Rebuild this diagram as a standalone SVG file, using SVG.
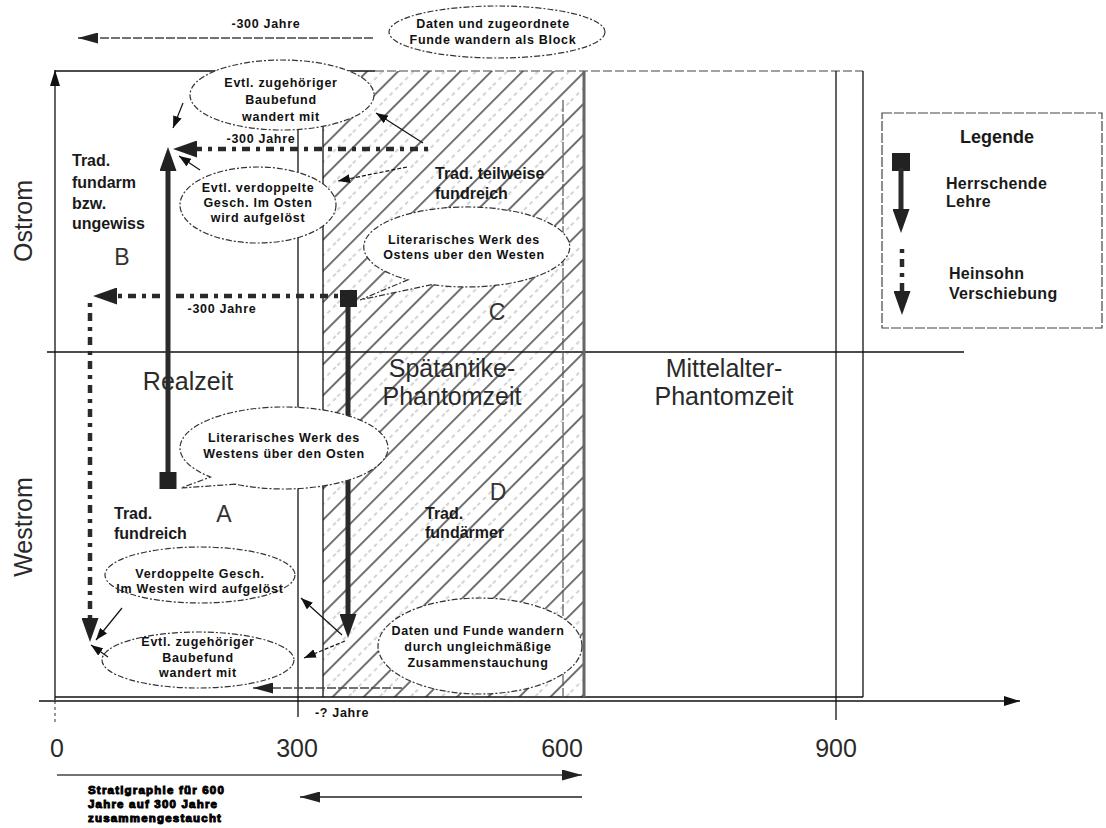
<svg xmlns="http://www.w3.org/2000/svg" width="1106" height="828" viewBox="0 0 1106 828">
<style>
text{font-family:"Liberation Sans",Arial,sans-serif;}
.eb{font-size:12.5px;font-weight:bold;text-anchor:middle;fill:#111;letter-spacing:0.7px}
.tb{font-size:16px;font-weight:bold;fill:#1a1a1a}
.big{font-size:25px;fill:#2a2a2a}
.abc{font-size:23px;fill:#333}
.sm{font-size:12.5px;font-weight:bold;fill:#111;letter-spacing:0.7px;text-anchor:middle}
.heavy{font-size:11.5px;font-weight:bold;fill:#000;stroke:#000;stroke-width:1;letter-spacing:1.2px}
.ell{fill:#fff;stroke:#333;stroke-width:1.2;stroke-dasharray:6 2 2 2}
.thin{stroke:#111;stroke-width:1.2;fill:none}
.fr{stroke:#111;stroke-width:1.3;fill:none}
.thick{stroke:#2a2a2a;stroke-width:5;fill:none}
.dot{stroke:#2a2a2a;stroke-width:4.5;fill:none;stroke-dasharray:4 6 8 6}
.gr{stroke:#444;stroke-width:1.6;fill:none;stroke-dasharray:9 2}
.sq{fill:#222}
</style>
<defs>
<pattern id="hatch" patternUnits="userSpaceOnUse" width="22" height="22" patternTransform="rotate(45)">
<line x1="2" y1="0" x2="2" y2="22" stroke="#333" stroke-width="1.4"/>
<line x1="13" y1="0" x2="13" y2="22" stroke="#aaa" stroke-width="1" stroke-dasharray="4 4"/>
</pattern>
<marker id="big" markerUnits="userSpaceOnUse" markerWidth="24" markerHeight="17" viewBox="0 0 24 17" refX="0" refY="8.5" orient="auto"><path d="M0,0 L24,8.5 L0,17 z" fill="#222"/></marker>
<marker id="sm" markerUnits="userSpaceOnUse" markerWidth="12" markerHeight="9" viewBox="0 0 12 9" refX="12" refY="4.5" orient="auto"><path d="M0,0 L12,4.5 L0,9 z" fill="#111"/></marker>
<marker id="ax" markerUnits="userSpaceOnUse" markerWidth="16" markerHeight="10" viewBox="0 0 16 10" refX="16" refY="5" orient="auto"><path d="M0,0 L16,5 L0,10 z" fill="#111"/></marker>
<marker id="ax2" markerUnits="userSpaceOnUse" markerWidth="20" markerHeight="11" viewBox="0 0 20 11" refX="20" refY="5.5" orient="auto"><path d="M0,0 L20,5.5 L0,11 z" fill="#222"/></marker>
</defs>
<rect width="1106" height="828" fill="#fff"/>

<g id="frame">
<rect x="323" y="71" width="261" height="626" fill="url(#hatch)"/>
<line class="fr" x1="55" y1="71" x2="375" y2="71"/>
<line x1="375" y1="71" x2="863" y2="71" stroke="#444" stroke-width="1.2" stroke-dasharray="9 3"/>
<line class="fr" x1="863" y1="71" x2="863" y2="697"/>
<line class="fr" x1="836" y1="71" x2="836" y2="720"/>
<line class="fr" x1="55" y1="697" x2="863" y2="697"/>
<line class="fr" x1="47" y1="352" x2="964" y2="352"/>
<line class="fr" x1="298" y1="71" x2="298" y2="717"/>
<line class="fr" x1="323" y1="71" x2="323" y2="697"/>
<line x1="563" y1="100" x2="563" y2="697" stroke="#555" stroke-width="1.2" stroke-dasharray="12 2"/>
<line x1="584" y1="71" x2="584" y2="697" stroke="#666" stroke-width="3"/>
<line x1="55" y1="701" x2="55" y2="724" stroke="#333" stroke-width="1" stroke-dasharray="3 3"/>
</g>

<g id="region-labels">
<text class="big" transform="translate(32,221) rotate(-90)" text-anchor="middle">Ostrom</text>
<text class="big" transform="translate(32,527) rotate(-90)" text-anchor="middle">Westrom</text>
<text class="big" x="188" y="390" text-anchor="middle">Realzeit</text>
<text class="big" x="452" y="377" text-anchor="middle">Spätantike-</text>
<text class="big" x="452" y="405" text-anchor="middle">Phantomzeit</text>
<text class="big" x="724" y="377" text-anchor="middle">Mittelalter-</text>
<text class="big" x="724" y="405" text-anchor="middle">Phantomzeit</text>
<text class="abc" x="122" y="265" text-anchor="middle">B</text>
<text class="abc" x="497" y="320" text-anchor="middle">C</text>
<text class="abc" x="224" y="522" text-anchor="middle">A</text>
<text class="abc" x="498" y="500" text-anchor="middle">D</text>
<text class="tb" x="72" y="166">Trad.</text>
<text class="tb" x="72" y="188">fundarm</text>
<text class="tb" x="72" y="209">bzw.</text>
<text class="tb" x="72" y="229">ungewiss</text>
<text class="tb" x="435" y="179">Trad. teilweise</text>
<text class="tb" x="435" y="199">fundreich</text>
<text class="tb" x="114" y="519">Trad.</text>
<text class="tb" x="114" y="539">fundreich</text>
<text class="tb" x="425" y="519">Trad.</text>
<text class="tb" x="425" y="538">fundärmer</text>
</g>

<g id="axis-labels">
<text class="big" x="57" y="757" text-anchor="middle">0</text>
<text class="big" x="297" y="757" text-anchor="middle">300</text>
<text class="big" x="562" y="757" text-anchor="middle">600</text>
<text class="big" x="836" y="757" text-anchor="middle">900</text>
<text class="sm" x="266" y="28">-300 Jahre</text>
<text class="sm" x="261" y="143">-300 Jahre</text>
<text class="sm" x="222" y="313">-300 Jahre</text>
<text class="sm" x="342" y="717">-? Jahre</text>
<text class="heavy" x="88" y="794">Stratigraphie für 600</text>
<text class="heavy" x="88" y="808">Jahre auf 300 Jahre</text>
<text class="heavy" x="88" y="822">zusammengestaucht</text>
</g>

<g id="connectors">
<line class="fr" x1="55" y1="700" x2="55" y2="70" marker-end="url(#ax)"/>
<line class="fr" x1="39" y1="701" x2="1020" y2="701" marker-end="url(#ax)"/>
<line class="thick" x1="168" y1="480" x2="168" y2="171" marker-end="url(#big)"/>
<line class="thick" x1="348" y1="298" x2="348" y2="614" marker-end="url(#big)"/>
<line class="dot" x1="428" y1="149" x2="197" y2="149" marker-end="url(#big)"/>
<line class="dot" x1="338" y1="296" x2="117" y2="296" marker-end="url(#big)"/>
<line class="dot" x1="90" y1="303" x2="90" y2="618" marker-end="url(#big)"/>
<line class="gr" x1="373" y1="38" x2="78" y2="38" marker-end="url(#ax2)"/>
<line class="gr" x1="402" y1="688" x2="253" y2="688" marker-end="url(#ax2)"/>
<line x1="57" y1="775" x2="582" y2="775" stroke="#444" stroke-width="1.5" marker-end="url(#ax2)"/>
<line x1="582" y1="797" x2="300" y2="797" stroke="#222" stroke-width="1.5" marker-end="url(#ax2)"/>
</g>

<g id="node-lehre-west">
<rect class="sq" x="159.5" y="472" width="17" height="17"/>
</g>
<g id="node-lehre-ost">
<rect class="sq" x="340" y="290" width="17" height="17"/>
</g>

<g id="node-block">
<ellipse class="ell" cx="497" cy="32" rx="108" ry="26"/>
<text class="eb" x="493" y="28">Daten und zugeordnete</text>
<text class="eb" x="493" y="44">Funde wandern als Block</text>
</g>

<g id="node-baubefund-ost">
<ellipse class="ell" cx="282" cy="95" rx="92" ry="35"/>
<text class="eb" x="281" y="87">Evtl. zugehöriger</text>
<text class="eb" x="281" y="104">Baubefund</text>
<text class="eb" x="281" y="121">wandert mit</text>
</g>

<g id="node-verdoppelt-ost">
<ellipse class="ell" cx="258" cy="205" rx="78" ry="38"/>
<text class="eb" x="258" y="192">Evtl. verdoppelte</text>
<text class="eb" x="258" y="207">Gesch. Im Osten</text>
<text class="eb" x="258" y="222">wird aufgelöst</text>
</g>

<g id="node-lit-ost">
<path class="ell" d="M431.8,284.6 L360,300 L407.9,279.8 A103,40 0 1 1 431.8,284.6 Z"/>
<text class="eb" x="464" y="244">Literarisches Werk des</text>
<text class="eb" x="464" y="259">Ostens uber den Westen</text>
</g>

<g id="node-lit-west">
<path class="ell" d="M235.2,484.2 L181,488 L210.5,477 A104,41 0 1 1 235.2,484.2 Z"/>
<text class="eb" x="284" y="442">Literarisches Werk des</text>
<text class="eb" x="284" y="458">Westens über den Osten</text>
</g>

<g id="node-verdoppelt-west">
<ellipse class="ell" cx="200" cy="575" rx="95" ry="28"/>
<text class="eb" x="200" y="578">Verdoppelte Gesch.</text>
<text class="eb" x="200" y="593">Im Westen wird aufgelöst</text>
</g>

<g id="node-baubefund-west">
<ellipse class="ell" cx="198" cy="660" rx="96" ry="28"/>
<text class="eb" x="198" y="646">Evtl. zugehöriger</text>
<text class="eb" x="198" y="662">Baubefund</text>
<text class="eb" x="198" y="677">wandert mit</text>
</g>

<g id="node-stauchung">
<ellipse class="ell" cx="480" cy="646" rx="102" ry="48"/>
<text class="eb" x="478" y="635">Daten und Funde wandern</text>
<text class="eb" x="478" y="651">durch ungleichmäßige</text>
<text class="eb" x="478" y="667">Zusammenstauchung</text>
</g>

<g id="connectors-thin">
<line class="thin" x1="183" y1="103" x2="173" y2="128" marker-end="url(#sm)"/>
<line class="thin" x1="200" y1="170" x2="179" y2="156" marker-end="url(#sm)"/>
<line class="thin" x1="423" y1="143" x2="376" y2="113" marker-end="url(#sm)"/>
<line class="thin" x1="407" y1="167" x2="338" y2="181" stroke-dasharray="4 2" marker-end="url(#sm)"/>
<line class="thin" x1="122" y1="608" x2="96" y2="640" marker-end="url(#sm)"/>
<line class="thin" x1="108" y1="657" x2="91" y2="645" marker-end="url(#sm)"/>
<line class="thin" x1="342" y1="635" x2="301" y2="598" marker-end="url(#sm)"/>
<line class="thin" x1="345" y1="641" x2="304" y2="658" stroke-dasharray="4 2" marker-end="url(#sm)"/>
</g>

<g id="legend">
<rect x="882" y="113" width="220" height="215" fill="#fff" stroke="#444" stroke-width="1.2" stroke-dasharray="10 2"/>
<text x="997" y="143" text-anchor="middle" font-size="18" font-weight="bold" fill="#1a1a1a">Legende</text>
<rect class="sq" x="892" y="153" width="18" height="18"/>
<line class="thick" x1="901" y1="168" x2="901" y2="209" marker-end="url(#big)"/>
<line class="dot" x1="902" y1="249" x2="902" y2="291" stroke-dasharray="4 6 6 6" marker-end="url(#big)"/>
<text class="tb" x="946" y="189" letter-spacing="0.3">Herrschende</text>
<text class="tb" x="946" y="207" letter-spacing="0.3">Lehre</text>
<text class="tb" x="949" y="279" letter-spacing="0.3">Heinsohn</text>
<text class="tb" x="949" y="299" letter-spacing="0.3">Verschiebung</text>
</g>
</svg>
